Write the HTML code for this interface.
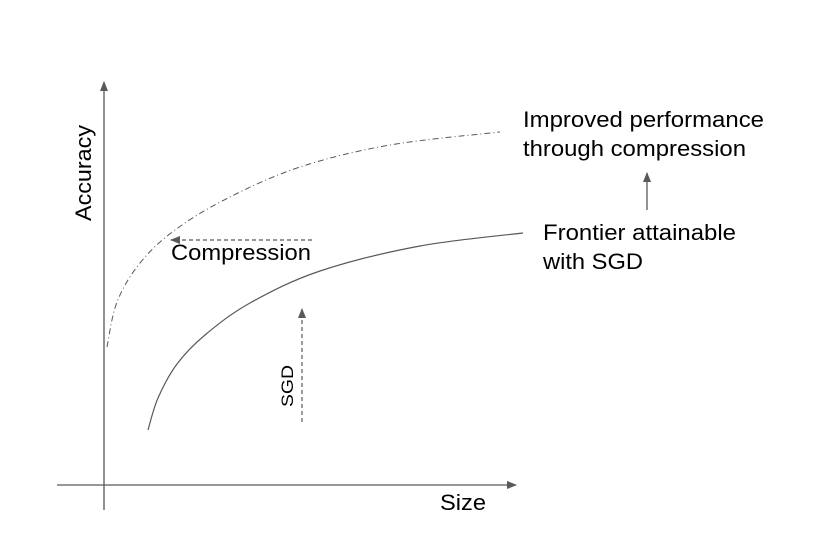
<!DOCTYPE html>
<html><head><meta charset="utf-8"><style>
html,body{margin:0;padding:0;background:#fff;}
svg{display:block;font-family:"Liberation Sans",sans-serif;}
</style></head><body>
<svg width="821" height="547" viewBox="0 0 821 547">
<defs>
<marker id="ah" markerWidth="10" markerHeight="8" refX="9" refY="4" orient="auto" markerUnits="userSpaceOnUse">
<path d="M0,0 L10,4 L0,8 Z" fill="#595959"/></marker>
</defs>
<line x1="104" y1="510" x2="104" y2="82" stroke="#595959" stroke-width="1.3" marker-end="url(#ah)"/>
<line x1="57" y1="485" x2="516" y2="485" stroke="#595959" stroke-width="1.3" marker-end="url(#ah)"/>
<text transform="translate(91,173) rotate(-90)" text-anchor="middle" font-size="22" textLength="96" lengthAdjust="spacingAndGlyphs" fill="#000">Accuracy</text>
<text x="440" y="510" font-size="22" textLength="46" lengthAdjust="spacingAndGlyphs" fill="#000">Size</text>
<path id="dd" fill="none" stroke="#595959" stroke-width="1" stroke-dasharray="6,3,1,3"/>
<path id="sol" fill="none" stroke="#595959" stroke-width="1.2"/>
<line x1="312" y1="240" x2="171" y2="240" stroke="#595959" stroke-width="1.2" stroke-dasharray="4,3" marker-end="url(#ah)"/>
<text x="171" y="260" font-size="22" textLength="140" lengthAdjust="spacingAndGlyphs" fill="#000">Compression</text>
<line x1="302" y1="422" x2="302" y2="309" stroke="#595959" stroke-width="1.2" stroke-dasharray="4,3" marker-end="url(#ah)"/>
<text transform="translate(293,386) rotate(-90)" text-anchor="middle" font-size="17" textLength="42" lengthAdjust="spacingAndGlyphs" fill="#000">SGD</text>
<line x1="647" y1="210" x2="647" y2="173" stroke="#595959" stroke-width="1.3" marker-end="url(#ah)"/>
<text x="523" y="127" font-size="22" textLength="241" lengthAdjust="spacingAndGlyphs" fill="#000">Improved performance</text>
<text x="523" y="156" font-size="22" textLength="223" lengthAdjust="spacingAndGlyphs" fill="#000">through compression</text>
<text x="543" y="240" font-size="22" textLength="193" lengthAdjust="spacingAndGlyphs" fill="#000">Frontier attainable</text>
<text x="543" y="269" font-size="22" textLength="100" lengthAdjust="spacingAndGlyphs" fill="#000">with SGD</text>
</svg>
<script>
const ddX=[107,117,140,175,228,300,390,500];
const ddY=[347,302,263,230,198,167,145,132];
const solX=[148,158,177,205,250,320,420,523];
const solY=[430,398,364,335,303,271,246,233];
function smooth(xs,ys){
  let d='M'+xs[0]+','+ys[0];
  for(let i=0;i<xs.length-1;i++){
    const x0=xs[Math.max(0,i-1)],y0=ys[Math.max(0,i-1)];
    const x1=xs[i],y1=ys[i],x2=xs[i+1],y2=ys[i+1];
    const x3=xs[Math.min(xs.length-1,i+2)],y3=ys[Math.min(xs.length-1,i+2)];
    d+=' C'+(x1+(x2-x0)/6)+','+(y1+(y2-y0)/6)+' '+(x2-(x3-x1)/6)+','+(y2-(y3-y1)/6)+' '+x2+','+y2;
  }
  return d;
}
document.getElementById('dd').setAttribute('d',smooth(ddX,ddY));
document.getElementById('sol').setAttribute('d',smooth(solX,solY));
</script>
</body></html>
